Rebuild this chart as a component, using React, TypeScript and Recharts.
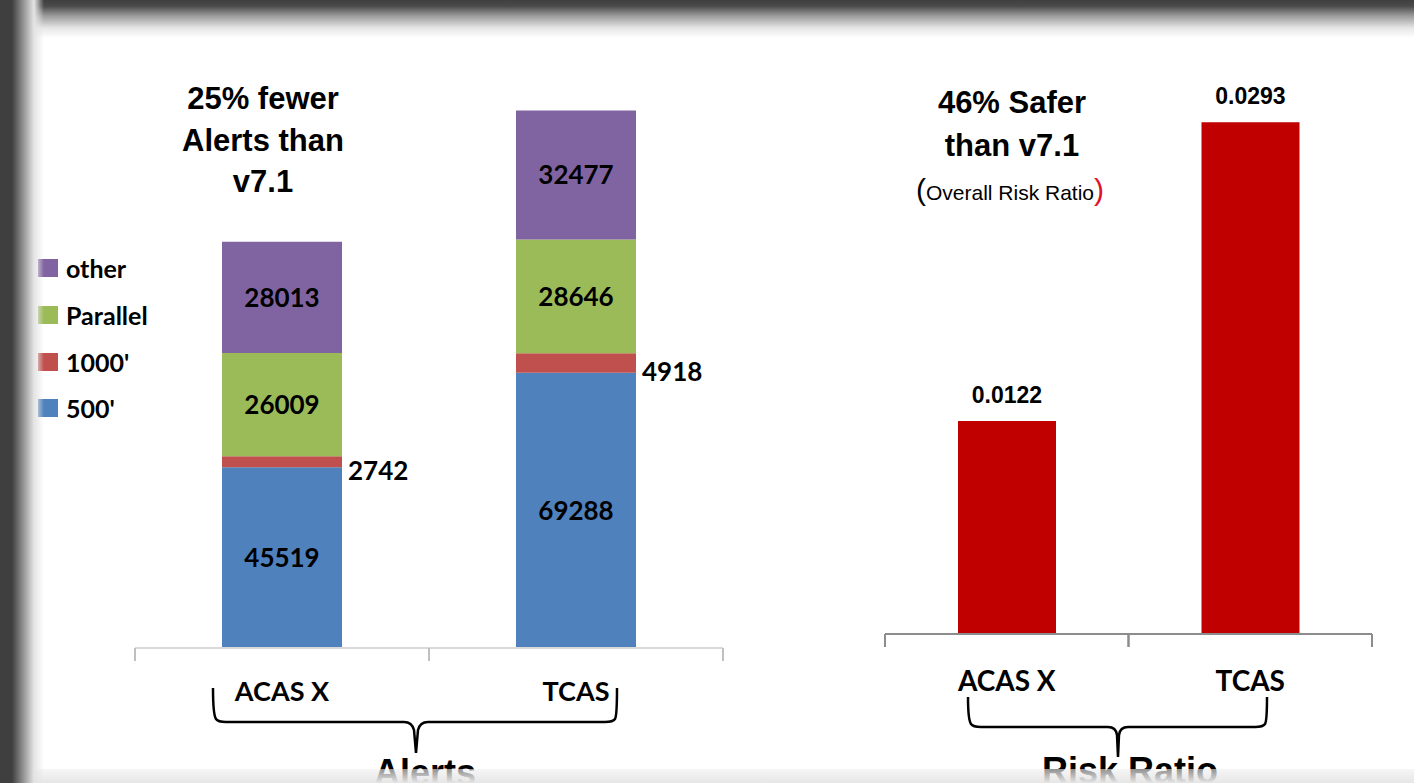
import { BarChart, Bar, XAxis, YAxis, LabelList, Legend } from 'recharts';

const categories = ['ACAS X', 'TCAS'];
const alerts500 = [45519, 69288];
const alerts1000 = [2742, 4918];
const alertsParallel = [26009, 28646];
const alertsOther = [28013, 32477];
const riskRatio = [0.0122, 0.0293];

const seriesNames = ["500'", "1000'", 'Parallel', 'other'];
const seriesColors = ['#4F81BD', '#C0504D', '#9BBB59', '#8064A2'];
const seriesValues = [alerts500, alerts1000, alertsParallel, alertsOther];

const alertsData = categories.map((name, i) => {
  const row: any = { name };
  seriesValues.forEach((vals, s) => (row['s' + s] = vals[i]));
  return row;
});
const riskData = categories.map((name, i) => ({ name, risk: riskRatio[i] }));

const CAL = 'Lato, "Open Sans", sans-serif';
const ARIAL = '"Liberation Sans", Arial, sans-serif';

// left chart geometry
const L_W = 760, L_H = 783;
const L_M = { top: 92, right: 37, left: 135, bottom: 75 };
const L_BAND = (L_W - L_M.left - L_M.right) / categories.length;

// right chart geometry
const R_X = 800, R_W = 614, R_H = 783;
const R_M = { top: 110, right: 42, left: 85, bottom: 89 };
const R_BAND = (R_W - R_M.left - R_M.right) / categories.length;

function makeTick(band: number, tickColor: string, dy: number, size: number) {
  return (props: any) => {
    const { x, y, payload } = props;
    return (
      <g>
        <line x1={x - band / 2} x2={x - band / 2} y1={y} y2={y + 13} stroke={tickColor} strokeWidth={2} />
        <line x1={x + band / 2} x2={x + band / 2} y1={y} y2={y + 13} stroke={tickColor} strokeWidth={2} />
        <text x={x} y={y + dy} textAnchor="middle" dominantBaseline="central" fontFamily={CAL} fontWeight={700} fontSize={size} fill="#000">
          {payload.value}
        </text>
      </g>
    );
  };
}

const SideLabel = (props: any) => {
  const { x, y, width, height, value } = props;
  return (
    <text x={x + width + 6} y={y + height / 2 + 8} dominantBaseline="central" fontFamily={CAL} fontWeight={700} fontSize={26} fill="#000">
      {value}
    </text>
  );
};

// top of the stack first, like the original legend
const LegendBox = (props: any) => {
  const items = [...(props.payload || [])].sort(
    (a: any, b: any) => seriesNames.indexOf(b.value) - seriesNames.indexOf(a.value)
  );
  return (
    <div>
      {items.map((it: any) => (
        <div key={it.value} style={{ display: 'flex', alignItems: 'center', height: 46.7 }}>
          <span style={{ width: 20, height: 18, background: it.color, display: 'inline-block', marginRight: 8 }} />
          <span style={{ fontFamily: CAL, fontWeight: 700, fontSize: 25, color: '#000' }}>{it.value}</span>
        </div>
      ))}
    </div>
  );
};

const titleStyle: any = { position: 'absolute', fontFamily: ARIAL, fontWeight: 700, color: '#000', textAlign: 'center', whiteSpace: 'nowrap' };

export default function App() {
  return (
    <div style={{ position: 'absolute', left: 0, top: 0, width: 1414, height: 783, background: '#fff', overflow: 'hidden' }}>
      <BarChart width={L_W} height={L_H} data={alertsData} margin={L_M} barCategoryGap={87} style={{ position: 'absolute', left: 0, top: 0 }}>
        <YAxis hide domain={[0, 140000]} />
        <XAxis
          dataKey="name"
          height={60}
          interval={0}
          axisLine={{ stroke: '#d9d9d9', strokeWidth: 2 }}
          tickLine={false}
          tickSize={0}
          tickMargin={0}
          tick={makeTick(L_BAND, '#bfbfbf', 42, 27)}
        />
        <Legend
          layout="horizontal"
          align="center"
          verticalAlign="middle"
          content={<LegendBox />}
          wrapperStyle={{ left: 38, top: 245, width: 140 }}
        />
        {seriesNames.map((n, s) => (
          <Bar key={n} dataKey={'s' + s} name={n} stackId="a" fill={seriesColors[s]} isAnimationActive={false}>
            {s === 1 ? (
              <LabelList dataKey={'s' + s} content={<SideLabel />} />
            ) : (
              <LabelList dataKey={'s' + s} position="center" fill="#000" fontFamily={CAL} fontWeight={700} fontSize={26} />
            )}
          </Bar>
        ))}
      </BarChart>

      <BarChart width={R_W} height={R_H} data={riskData} margin={R_M} barCategoryGap={73} style={{ position: 'absolute', left: R_X, top: 0 }}>
        <YAxis hide domain={[0, 0.03]} />
        <XAxis
          dataKey="name"
          height={60}
          interval={0}
          axisLine={{ stroke: '#8c8c8c', strokeWidth: 2 }}
          tickLine={false}
          tickSize={0}
          tickMargin={0}
          tick={makeTick(R_BAND, '#8c8c8c', 46, 28)}
        />
        <Bar dataKey="risk" fill="#C00000" isAnimationActive={false}>
          <LabelList
            dataKey="risk"
            position="top"
            offset={18}
            formatter={(v: any) => Number(v).toFixed(4)}
            fill="#000"
            fontFamily={ARIAL}
            fontWeight={700}
            fontSize={23}
          />
        </Bar>
      </BarChart>

      {/* titles */}
      <div style={{ ...titleStyle, left: 143, top: 78, width: 240, fontSize: 31, lineHeight: '41.5px' }}>
        25% fewer<br />Alerts than<br />v7.1
      </div>
      <div style={{ ...titleStyle, left: 892, top: 81, width: 240, fontSize: 31, lineHeight: '43px' }}>
        46% Safer<br />than v7.1
      </div>
      <div style={{ ...titleStyle, left: 860, top: 172, width: 300, fontSize: 21, fontWeight: 400, lineHeight: '36px' }}>
        <span style={{ fontSize: 30 }}>(</span>Overall Risk Ratio<span style={{ fontSize: 30, color: '#e0102a' }}>)</span>
      </div>

      {/* braces */}
      <svg width={1414} height={783} style={{ position: 'absolute', left: 0, top: 0 }}>
        <path
          d="M213,688 C213,705 214,716 216,719 Q218,722 226,722 L404,722 Q412,722 414,730 L416,753 L418,730 Q420,722 428,722 L605,722 Q613,722 615,719 C617,716 617,705 617,688"
          fill="none" stroke="#000" strokeWidth={2.5}
        />
        <path
          d="M968,697 C968,712 969,721 971,724 Q973,727 981,727 L1108,727 Q1116,727 1117,735 L1118,757 L1119,735 Q1120,727 1128,727 L1255,727 Q1263,727 1265,724 C1267,721 1267,712 1267,697"
          fill="none" stroke="#000" strokeWidth={2.5}
        />
      </svg>
      <div style={{ ...titleStyle, left: 325, top: 752, width: 200, fontSize: 36 }}>Alerts</div>
      <div style={{ ...titleStyle, left: 1030, top: 750, width: 200, fontSize: 36 }}>Risk Ratio</div>

      {/* slide frame */}
      <div style={{ position: 'absolute', left: 0, right: 0, bottom: 0, height: 14, background: 'linear-gradient(to bottom, rgba(240,240,240,0.6), #e6e6e6)' }} />
      <div style={{ position: 'absolute', left: 0, right: 0, top: 0, height: 38, background: 'linear-gradient(to bottom, #3f3f3f 0px, #4a4a4a 6px, #9c9c9c 16px, #e6e6e6 28px, rgba(255,255,255,0) 38px)' }} />
      <div style={{ position: 'absolute', left: 0, top: 0, bottom: 0, width: 44, background: 'linear-gradient(to right, #3f3f3f 0px, #3f3f3f 12px, #8a8a8a 22px, #e4e4e4 34px, rgba(255,255,255,0) 44px)' }} />
    </div>
  );
}
